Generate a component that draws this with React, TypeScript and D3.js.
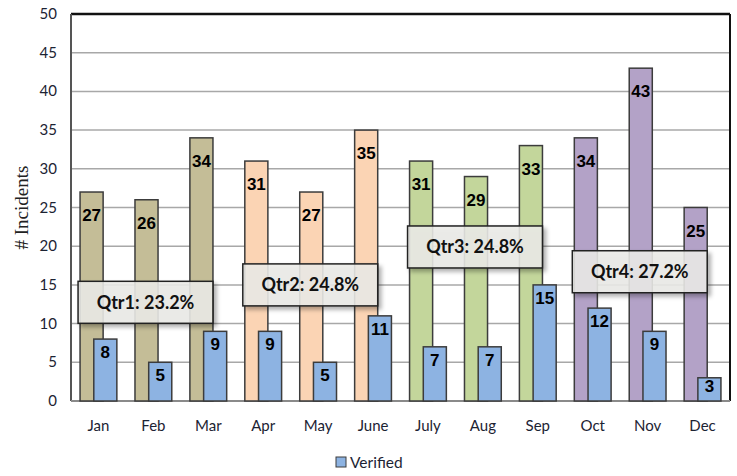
import React from "react";
import * as d3 from "d3";

const months = ["Jan", "Feb", "Mar", "Apr", "May", "June", "July", "Aug", "Sep", "Oct", "Nov", "Dec"];
const totals = [27, 26, 34, 31, 27, 35, 31, 29, 33, 34, 43, 25];
const verified = [8, 5, 9, 9, 5, 11, 7, 7, 15, 12, 9, 3];
const quarterLabels = ["Qtr1: 23.2%", "Qtr2: 24.8%", "Qtr3: 24.8%", "Qtr4: 27.2%"];
const quarterColors = ["#c4bd97", "#fbd4b4", "#c3d69b", "#b3a2c7"];
const yTicks = [0, 5, 10, 15, 20, 25, 30, 35, 40, 45, 50];

// where the quarter call-outs sit (in axis units, vertical middle)
const boxMid = [12.75, 15, 19.9, 16.7];

const W = 737;
const H = 476;
const left = 71, right = 730, top = 14, bottom = 401;
const axisFont = "Lato, 'Open Sans', sans-serif";
const textColor = "#1c2333";
const verifiedColor = "#8db3e2";
const edge = "#3c3c3c";

export default function App() {
  const x = d3.scaleBand<string>().domain(months).range([left, right]).padding(0);
  const y = d3.scaleLinear().domain([0, 50]).range([bottom, top]);
  const bw = x.bandwidth();
  const barW = bw * 0.42;
  const totalOff = bw * 0.165;
  const verOff = bw * 0.415;

  return (
    <svg width={W} height={H} style={{ position: "absolute", left: 0, top: 0, background: "#fff" }}>
      <defs>
        <filter id="shadow" x="-10%" y="-20%" width="130%" height="160%">
          <feDropShadow dx="3" dy="3" stdDeviation="2" floodColor="#000" floodOpacity="0.35" />
        </filter>
      </defs>

      {/* grid */}
      {yTicks.map((t) => (
        <line key={"g" + t} x1={left} x2={right} y1={y(t)} y2={y(t)} stroke="#a8a8a8" strokeWidth={1.5} />
      ))}

      {/* plot frame */}
      <line x1={left} x2={right} y1={top} y2={top} stroke="#111" strokeWidth={2.5} />
      <line x1={right} x2={right} y1={top} y2={bottom} stroke="#111" strokeWidth={2} />
      <line x1={left} x2={left} y1={top} y2={bottom} stroke="#555" strokeWidth={2} />
      <line x1={left} x2={right} y1={bottom} y2={bottom} stroke="#8a8a8a" strokeWidth={2} />

      {/* totals */}
      {totals.map((v, i) => (
        <rect
          key={"t" + i}
          x={x(months[i])! + totalOff}
          y={y(v)}
          width={barW}
          height={y(0) - y(v)}
          fill={quarterColors[Math.floor(i / 3)]}
          stroke={edge}
          strokeWidth={1.5}
        />
      ))}

      {/* verified */}
      {verified.map((v, i) => (
        <rect
          key={"v" + i}
          x={x(months[i])! + verOff}
          y={y(v)}
          width={barW}
          height={y(0) - y(v)}
          fill={verifiedColor}
          stroke={edge}
          strokeWidth={1.5}
        />
      ))}

      {/* total labels */}
      {totals.map((v, i) => (
        <text
          key={"tl" + i}
          x={x(months[i])! + totalOff + barW / 2}
          y={y(v) + 29}
          textAnchor="middle"
          fontFamily="'Liberation Sans', Arial, sans-serif"
          fontWeight="bold"
          fontSize={17}
          fill="#000"
        >
          {v}
        </text>
      ))}

      {/* verified labels */}
      {verified.map((v, i) => {
        const h = y(0) - y(v);
        const off = Math.min(13, h / 3);
        return (
          <text
            key={"vl" + i}
            x={x(months[i])! + verOff + barW / 2}
            y={y(v) + off + 6}
            textAnchor="middle"
            fontFamily="'Liberation Sans', Arial, sans-serif"
            fontWeight="bold"
            fontSize={17}
            fill="#000"
          >
            {v}
          </text>
        );
      })}

      {/* quarter call-outs */}
      {quarterLabels.map((q, k) => {
        const x0 = x(months[k * 3])! + totalOff - 2;
        const x1 = x(months[k * 3 + 2])! + totalOff + barW;
        const cy = y(boxMid[k]);
        return (
          <g key={"q" + k}>
            <rect
              x={x0}
              y={cy - 21}
              width={x1 - x0}
              height={42}
              fill="#ededea"
              fillOpacity={0.86}
              stroke="#222"
              strokeWidth={1.5}
              filter="url(#shadow)"
            />
            <text
              x={(x0 + x1) / 2}
              y={cy + 6.5}
              textAnchor="middle"
              fontFamily={axisFont}
              fontWeight="bold"
              fontSize={18}
              fill="#111"
            >
              {q}
            </text>
          </g>
        );
      })}

      {/* y ticks */}
      {yTicks.map((t) => (
        <text
          key={"yt" + t}
          x={57}
          y={y(t) + 5}
          textAnchor="end"
          fontFamily={axisFont}
          fontSize={15}
          fill={textColor}
        >
          {t}
        </text>
      ))}

      {/* x ticks */}
      {months.map((m) => (
        <text
          key={"xt" + m}
          x={x(m)! + bw / 2}
          y={431}
          textAnchor="middle"
          fontFamily={axisFont}
          fontSize={15}
          fill={textColor}
        >
          {m}
        </text>
      ))}

      {/* y title */}
      <text
        transform={`translate(28, ${(top + bottom) / 2}) rotate(-90)`}
        textAnchor="middle"
        fontFamily="'Liberation Serif', 'Times New Roman', serif"
        fontSize={19}
        fill="#222"
      >
        # Incidents
      </text>

      {/* legend */}
      <rect x={336} y={457} width={10} height={10} fill={verifiedColor} stroke={edge} strokeWidth={1} />
      <text x={350} y={468} fontFamily={axisFont} fontSize={15.5} fill={textColor}>
        Verified
      </text>
    </svg>
  );
}
